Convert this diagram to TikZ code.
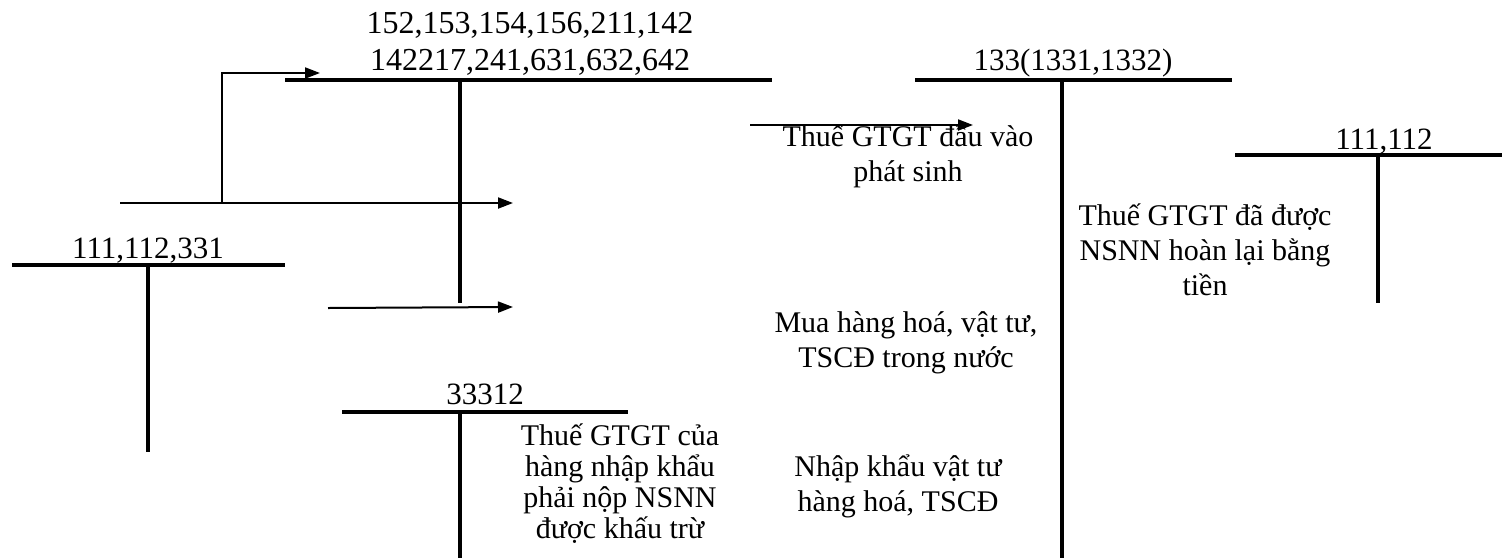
\documentclass[tikz,border=0pt]{standalone}
\usepackage{fontspec}
\setmainfont{Liberation Serif}
\usetikzlibrary{arrows.meta}
\begin{document}
\begin{tikzpicture}[x=1pt,y=-1pt,
  tacc/.style={line width=3.2pt},
  flow/.style={line width=2pt,-{Triangle[length=15pt,width=11pt]}},
  lbl/.style={inner sep=0pt,align=center,font=\fontsize{30}{35}\selectfont},
  acc/.style={inner sep=0pt,anchor=base,font=\fontsize{31}{36}\selectfont}]
\useasboundingbox (0,0) rectangle (1502,558);

% account 152,153,...
\coordinate (aL) at (285,80);  \coordinate (aR) at (772,80);
\coordinate (aT) at (460,80);  \coordinate (aB) at (460,303);
\draw[tacc] (aL) -- (aR);
\draw[tacc] (aT) -- (aB);
\node[acc,font=\fontsize{32}{36}\selectfont] (aName1) at (530,33) {152,153,154,156,211,142};
\node[acc,font=\fontsize{32}{36}\selectfont] (aName2) at (530,70) {142217,241,631,632,642};

% account 133
\coordinate (bL) at (915,80);  \coordinate (bR) at (1232,80);
\coordinate (bT) at (1062,80); \coordinate (bB) at (1062,558);
\draw[tacc] (bL) -- (bR);
\draw[tacc] (bT) -- (bB);
\node[acc] (bName) at (1073,70) {133(1331,1332)};

% account 111,112
\coordinate (cL) at (1235,155); \coordinate (cR) at (1502,155);
\coordinate (cT) at (1378,155); \coordinate (cB) at (1378,303);
\draw[tacc] (cL) -- (cR);
\draw[tacc] (cT) -- (cB);
\node[acc] (cName) at (1384,149) {111,112};

% account 111,112,331
\coordinate (dL) at (12,265);  \coordinate (dR) at (285,265);
\coordinate (dT) at (148,265); \coordinate (dB) at (148,452);
\draw[tacc] (dL) -- (dR);
\draw[tacc] (dT) -- (dB);
\node[acc] (dName) at (148,258) {111,112,331};

% account 33312
\coordinate (eL) at (342,412); \coordinate (eR) at (628,412);
\coordinate (eT) at (460,412); \coordinate (eB) at (460,558);
\draw[tacc] (eL) -- (eR);
\draw[tacc] (eT) -- (eB);
\node[acc] (eName) at (485,404) {33312};

% flows
\coordinate (f1s) at (120,203); \coordinate (f1e) at (513,203);
\coordinate (f1k) at (222,203); \coordinate (f1u) at (222,73);
\coordinate (f1t) at (320,73);
\draw[flow] (f1s) -- (f1e);
\draw[flow] (f1k) -- (f1u) -- (f1t);

\coordinate (f2s) at (328,308); \coordinate (f2e) at (513,307);
\draw[flow] (f2s) -- (f2e);

\coordinate (f3s) at (750,125); \coordinate (f3e) at (973,125);
\draw[flow] (f3s) -- (f3e);

% descriptions
\node[lbl] (n1) at (908,156) {Thuế GTGT đầu vào\\phát sinh};
\node[lbl] (n2) at (1205,250) {Thuế GTGT đã được\\NSNN hoàn lại bằng\\tiền};
\node[lbl] (n3) at (906,343) {Mua hàng hoá, vật tư,\\TSCĐ trong nước};
\node[lbl] (n4) at (898,486) {Nhập khẩu vật tư\\hàng hoá, TSCĐ};
\node[lbl,font=\fontsize{30}{31}\selectfont] (n5) at (620,484) {Thuế GTGT của\\hàng nhập khẩu\\phải nộp NSNN\\được khấu trừ};
\end{tikzpicture}
\end{document}
